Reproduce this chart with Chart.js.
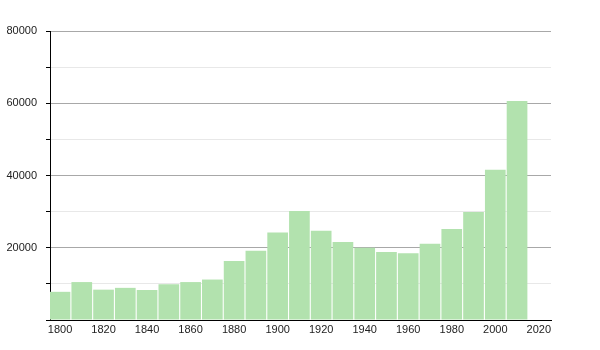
<!DOCTYPE html>
<html>
<head>
<meta charset="utf-8">
<script src="https://cdn.jsdelivr.net/npm/chart.js@4"></script>
<style>
html,body{margin:0;padding:0;background:#fff;}
#wrap{width:600px;height:350px;}
</style>
</head>
<body>
<div id="wrap"><canvas id="c" width="600" height="350"></canvas></div>
<script>
const years = [1800,1810,1820,1830,1840,1850,1860,1870,1880,1890,1900,1910,1920,1930,1940,1950,1960,1970,1980,1990,2000,2010];
const population = [7800,10500,8400,8900,8300,9900,10500,11200,16300,19200,24200,30200,24700,21600,20000,18800,18500,21100,25200,29900,41600,60600];
const xTickLabels = [1800,1820,1840,1860,1880,1900,1920,1940,1960,1980,2000,2020];
const yTickLabels = [20000,40000,60000,80000];

const ctx = document.getElementById('c').getContext('2d');
new Chart(ctx, {
  type: 'bar',
  data: {
    datasets: [{
      data: years.map((y,i)=>({x:y, y:population[i]})),
      backgroundColor: 'rgb(178,226,174)',
      borderWidth: 0,
      barPercentage: 0.95,
      categoryPercentage: 1.0
    }]
  },
  options: {
    responsive: false,
    animation: false,
    events: [],
    layout: { padding: { top: 31, right: 49, left: 0, bottom: 0 } },
    plugins: { legend: { display: false }, tooltip: { enabled: false } },
    scales: {
      x: {
        type: 'linear',
        offset: false,
        min: 1795.4,
        max: 2025.6,
        afterBuildTicks: s => { s.ticks = xTickLabels.map(v => ({value: v})); },
        afterFit: s => { s.height = 30; },
        grid: { display: false, drawTicks: false, offset: false },
        border: { display: true, color: '#000', width: 1 },
        ticks: {
          padding: 3,
          color: '#222',
          font: { family: 'Liberation Sans', size: 11 },
          maxRotation: 0,
          autoSkip: false,
          callback: v => String(v)
        }
      },
      y: {
        min: 0,
        max: 80000,
        afterFit: s => { s.width = 50; },
        grid: {
          color: c => (c.tick && c.tick.value % 20000 === 0) ? '#a8a8a8' : '#e8e8e8',
          tickColor: '#000',
          tickLength: 4,
          drawTicks: true
        },
        border: { display: true, color: '#000', width: 1 },
        ticks: {
          stepSize: 10000,
          padding: 9,
          color: '#222',
          font: { family: 'Liberation Sans', size: 11 },
          autoSkip: false,
          callback: v => yTickLabels.includes(v) ? String(v) : ''
        }
      }
    }
  }
});
</script>
</body>
</html>
